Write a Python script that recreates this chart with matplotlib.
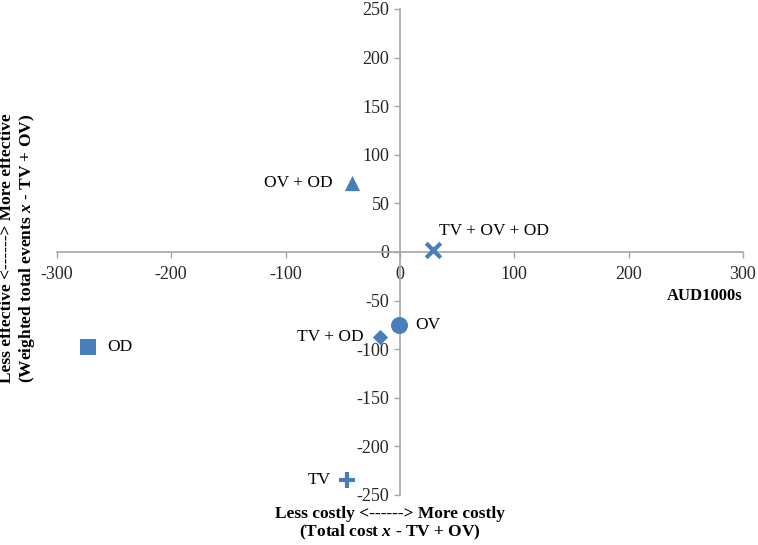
import matplotlib
matplotlib.use("Agg")
import matplotlib.pyplot as plt

# incremental cost vs incremental effect, relative to TV + OV
strategies = ["OD", "OV + OD", "TV + OV + OD", "OV", "TV + OD", "TV"]
cost_diff = [-273, -42, 29, -1, -17, -46]
effect_diff = [-98, 71, 2, -75, -88, -235]
markers = ["s", "^", "x", "o", "D", "+"]
sizes = [120, 120, 110, 150, 60, 130]
# label offsets in points (dx, dy, ha)
offsets = [(14, 0, "left"), (-14, 0, "right"), (4, 14, "left"),
           (12, 0, "left"), (-12, 0, "right"), (-12, 0, "right")]

x_ticks = [-300, -200, -100, 0, 100, 200, 300]
y_ticks = [-250, -200, -150, -100, -50, 0, 50, 100, 150, 200, 250]

blue = "#4a7ebb"
grey = "#a6a6a6"

plt.rcParams["font.family"] = ["Liberation Serif", "DejaVu Serif"]
plt.rcParams["axes.unicode_minus"] = False
plt.rcParams["mathtext.fontset"] = "custom"
plt.rcParams["mathtext.it"] = "Liberation Serif:italic:bold"
plt.rcParams["mathtext.rm"] = "Liberation Serif:bold"

fig = plt.figure(figsize=(7.58, 5.45), dpi=100)
ax = fig.add_axes([0.075, 0.092, 0.905, 0.8915])

for x, y, m, s, lab, (dx, dy, ha) in zip(cost_diff, effect_diff, markers, sizes, strategies, offsets):
    lw = 3 if m in ("x", "+") else 0
    ax.scatter(x, y, marker=m, s=s, color=blue, linewidths=lw, zorder=3)
    ax.annotate(lab, (x, y), xytext=(dx, dy), textcoords="offset points",
                ha=ha, va="center", fontsize=12.5)

ax.set_xlim(-300, 300)
ax.set_ylim(-250, 250)
ax.set_xticks(x_ticks)
ax.set_yticks(y_ticks)
ax.tick_params(labelsize=13, colors=grey, labelcolor="#262626", length=4, width=1)
ax.tick_params(axis="x", pad=6)

ax.spines["left"].set_position(("data", 0))
ax.spines["bottom"].set_position(("data", 0))
ax.spines["top"].set_visible(False)
ax.spines["right"].set_visible(False)
for sp in ("left", "bottom"):
    ax.spines[sp].set_color(grey)
    ax.spines[sp].set_linewidth(1.2)

ax.text(1.0, 0.41, "AUD1000s", transform=ax.transAxes, ha="right", va="center",
        fontsize=12, fontweight="bold")

fig.text(0.515, 0.072, "Less costly <------> More costly\n(Total cost $\\mathit{x}$ - TV + OV)",
         ha="center", va="top", fontsize=12.5, fontweight="bold", linespacing=1.1)
fig.text(0.024, 0.545, "Less effective <------> More effective\n(Weighted total events $\\mathit{x}$ - TV + OV)",
         ha="center", va="center", rotation=90, fontsize=12.5, fontweight="bold", linespacing=1.1)

fig.savefig("out.png", dpi=100)
